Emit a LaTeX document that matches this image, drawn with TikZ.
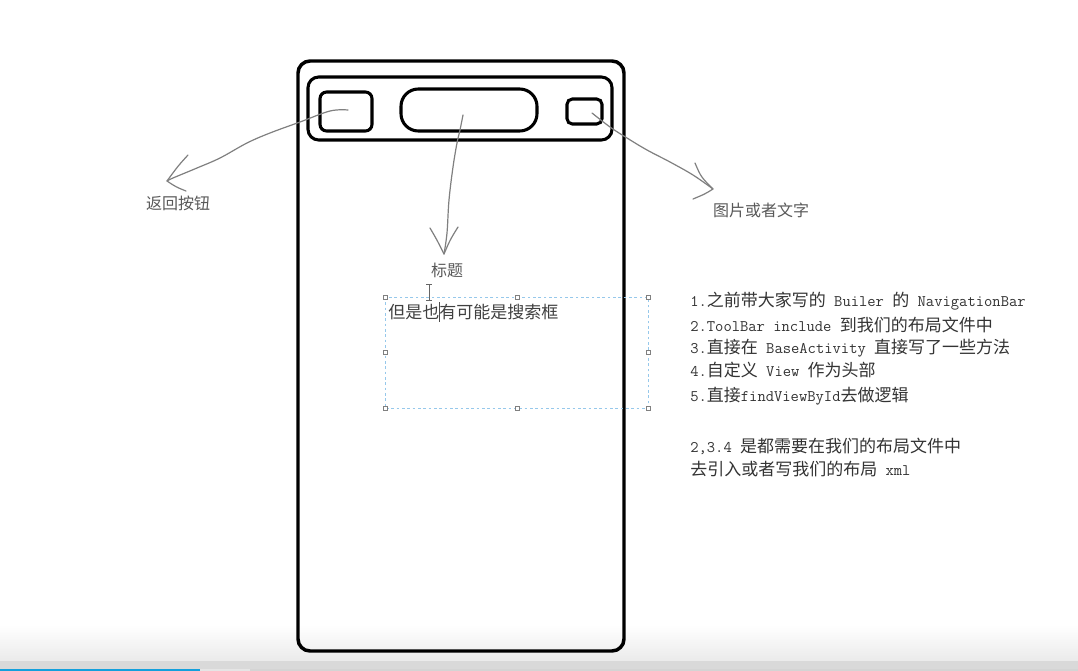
\documentclass[tikz,border=0pt]{standalone}
\usepackage{fontspec}
\newfontfamily\cjk{Noto Sans CJK SC}
\newcommand\lat{\fontsize{12.1}{14}\selectfont\ttfamily}
\definecolor{pencil}{RGB}{128,128,128}
\definecolor{selblue}{RGB}{150,200,235}
\definecolor{barblue}{RGB}{20,160,220}

\begin{document}
\begin{tikzpicture}[x=0.75pt, y=-0.75pt, font=\cjk,
    sketch/.style={draw=pencil, line width=0.9pt, line cap=round, line join=round},
    tag/.style={inner sep=0pt, text=black!65, font=\cjk\fontsize{12}{14}\selectfont},
    note/.style={inner sep=0pt, anchor=west, text=black!80, font=\cjk\fontsize{12.75}{15}\selectfont},
    handle/.style={draw=gray, fill=white, line width=0.4pt, minimum size=3pt, inner sep=0pt}]
                \useasboundingbox (0,0) rectangle (1078,671);
                \fill[white] (0,0) rectangle (1078,671);
                % bottom bar of the screen
                \shade[top color=white, bottom color=black!8] (0,625) rectangle (1078,661);
                \fill[black!15] (0,661) rectangle (1078,669);
                \fill[black!17] (0,669) rectangle (1078,671);
                \fill[black!10] (200,669) rectangle (250,671);
                \fill[barblue] (0,669) rectangle (200,671);
                % phone
                \draw[line width=2.6pt, rounded corners=9pt] (298,61) rectangle (624,651);
                \draw[line width=2.3pt, rounded corners=8pt] (308,77) rectangle (612,140);
                \draw[line width=2.3pt, rounded corners=5pt] (320,92) rectangle (372,131);
                \draw[line width=2.3pt, rounded corners=13pt] (401,89) rectangle (537,131);
                \draw[line width=2.3pt, rounded corners=4pt] (567,99) rectangle (602,124);
                \coordinate (backpt) at (348,110);
                \coordinate (titlept) at (463,115);
                \coordinate (morept) at (592,113);
                % labels
                \node[tag] (backlbl) at (178,203) {返回按钮};
                \node[tag] (titlelbl) at (447,270) {标题};
                \node[tag] (morelbl) at (761,210) {图片或者文字};
                \coordinate (backtip) at (167,181);
                \coordinate (titletip) at (444,254);
                \coordinate (moretip) at (713,189);
                % pencil arrows
                \draw[sketch] plot[smooth, tension=0.6] coordinates {(backpt) (330,111) (300,122) (270,133) (247,143) (220,158) (197,168) (173,178) (backtip)};
                \draw[sketch] (188,155) .. controls (178,166) .. (backtip) .. controls (176,187) .. (186,191);
                \draw[sketch] plot[smooth, tension=0.6] coordinates {(titlept) (460,130) (457,143) (453,167) (449,200) (447,233) (titletip)};
                \draw[sketch] (430,228) .. controls (437,240) .. (titletip) .. controls (450,240) .. (458,227);
                \draw[sketch] plot[smooth, tension=0.6] coordinates {(morept) (610,127) (627,138) (647,150) (670,162) (693,175) (moretip)};
                \draw[sketch] (695,163) .. controls (701,177) .. (moretip) .. controls (705,194) .. (693,199);
                % selection box
                \draw[selblue, line width=0.7pt, dash pattern=on 2pt off 2pt] (385,297) rectangle (648,408);
                \foreach \p [count=\i] in {(385,297),(517,297),(648,297),(385,352),(648,352),(385,408),(517,408),(648,408)}
                    \node[handle] (h\i) at \p {};
                \node[note, text=black!75] (searchtxt) at (388,312) {但是也有可能是搜索框};
                \draw[black!60, line width=0.6pt] (426,284) -- (432,284) (429,284) -- (429,300) (426,300) -- (432,300);
                \draw[black!70, line width=0.6pt] (439,302) -- (439,322);
                % notes
                \node[note] (n1) at (690,301) {{\lat 1.}之前带大家写的{\lat\ Builer }的{\lat\ NavigationBar}};
                \node[note] (n2) at (690,325) {{\lat 2.ToolBar include }到我们的布局文件中};
                \node[note] (n3) at (690,348) {{\lat 3.}直接在{\lat\ BaseActivity }直接写了一些方法};
                \node[note] (n4) at (690,370) {{\lat 4.}自定义{\lat\ View }作为头部};
                \node[note] (n5) at (690,396) {{\lat 5.}直接{\lat findViewById}去做逻辑};
                \node[note] (n6) at (690,446) {{\lat 2,3.4 }是都需要在我们的布局文件中};
                \node[note] (n7) at (690,469) {去引入或者写我们的布局{\lat\ xml}};
            \end{tikzpicture}
\end{document}
